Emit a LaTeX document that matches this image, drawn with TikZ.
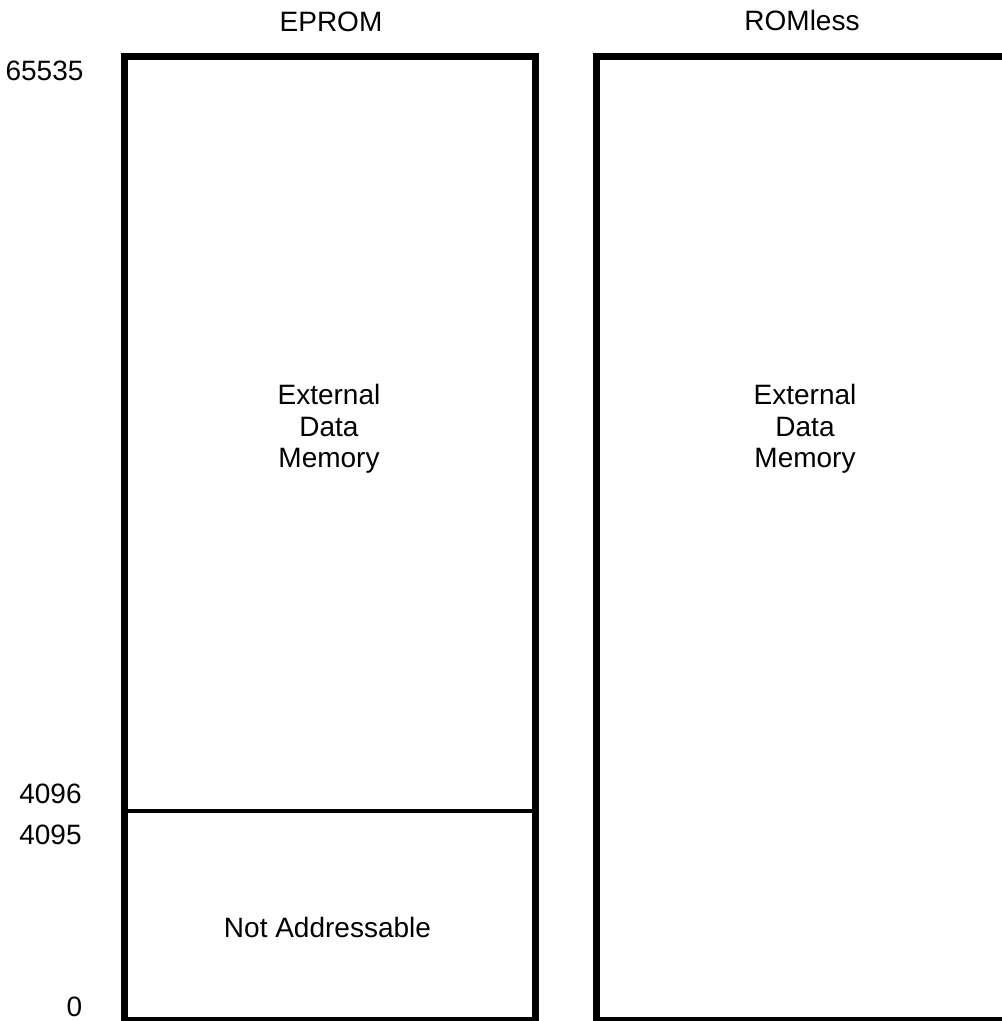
\documentclass[tikz,border=0pt]{standalone}
\usepackage{fontspec}
\setmainfont{Liberation Sans}
\begin{document}
\begin{tikzpicture}[x=1pt,y=-1pt,
  lbl/.style={font=\fontsize{28}{32}\selectfont, inner sep=0pt, anchor=base},
  boxline/.style={line width=7pt, line join=miter},
  divline/.style={line width=4pt}]
\useasboundingbox (0,0) rectangle (1002,1021);
\clip (0,0) rectangle (1002,1021);
% boxes
\draw[boxline] (124.5,56) rectangle (535,1020.5);
\draw[boxline] (596.5,56) rectangle (1012,1020.5);
\coordinate (dl) at (124.5,810.5);
\coordinate (dr) at (535,810.5);
\draw[divline] (dl) -- (dr);
% headers
\node[lbl] (eprom) at (331,31) {EPROM};
\node[lbl] (romless) at (802,30) {ROMless};
% addresses
\node[lbl] (a65535) at (44.5,80) {65535};
\node[lbl] (a4096) at (50.5,803) {4096};
\node[lbl] (a4095) at (50.5,844) {4095};
\node[lbl] (a0) at (74.5,1016) {0};
% contents
\node[lbl] (ext1a) at (329,404) {External};
\node[lbl] (ext1b) at (329,436) {Data};
\node[lbl] (ext1c) at (329,467) {Memory};
\node[lbl] (ext2a) at (805,404) {External};
\node[lbl] (ext2b) at (805,436) {Data};
\node[lbl] (ext2c) at (805,467) {Memory};
\node[lbl] (na) at (327.5,937) {Not Addressable};
\end{tikzpicture}
\end{document}
